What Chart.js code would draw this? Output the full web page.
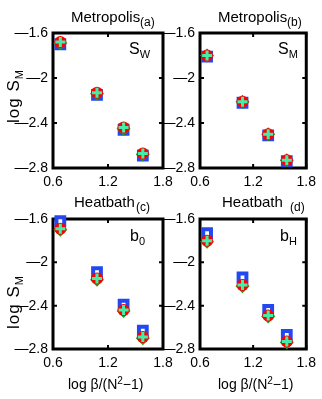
<!DOCTYPE html>
<html>
<head>
<meta charset="utf-8">
<script src="https://cdn.jsdelivr.net/npm/chart.js@4"></script>
<style>
body { margin:0; width:322px; height:399px; background:#fff; position:relative; overflow:hidden; font-family:"Liberation Sans", Arial, sans-serif; }
canvas { position:absolute; }
.txt { position:absolute; white-space:nowrap; color:#000; line-height:1; }
.sub { font-size:11px; position:relative; top:4px; }
.sup { font-size:10px; position:relative; top:-5px; }
.rot { position:absolute; white-space:nowrap; line-height:1; font-size:17px; letter-spacing:1px; transform:translate(-50%,-50%) rotate(-90deg); }
</style>
</head>
<body>
<canvas id="pa" width="180" height="195" style="left:0;top:0"></canvas>
<canvas id="pb" width="172" height="195" style="left:150px;top:0"></canvas>
<canvas id="pc" width="180" height="204" style="left:0;top:195px"></canvas>
<canvas id="pd" width="172" height="204" style="left:150px;top:195px"></canvas>

<script>
// x positions (log beta/(N^2-1)), shared by all panels
const xVals = [0.68, 1.08, 1.37, 1.58];

// panel (a) Metropolis, S_W
const aBlue  = [-1.70, -2.15, -2.46, -2.69];
const aGreen = [-1.69, -2.14, -2.45, -2.68];
const aRed   = [-1.68, -2.13, -2.44, -2.67];
const aCyan  = [-1.68, -2.13, -2.44, -2.67];

// panel (b) Metropolis, S_M
const bBlue  = [-1.81, -2.22, -2.51, -2.74];
const bGreen = [-1.80, -2.21, -2.50, -2.73];
const bRed   = [-1.80, -2.21, -2.50, -2.73];
const bCyan  = [-1.80, -2.21, -2.50, -2.73];

// panel (c) Heatbath, b_0
const cBlue  = [-1.62, -2.09, -2.39, -2.63];
const cGreen = [-1.70, -2.16, -2.45, -2.70];
const cRed   = [-1.69, -2.15, -2.44, -2.69];
const cCyan  = [-1.69, -2.15, -2.44, -2.69];

// panel (d) Heatbath, b_H
const dBlue  = [-1.73, -2.14, -2.44, -2.67];
const dGreen = [-1.81, -2.22, -2.50, -2.74];
const dRed   = [-1.80, -2.21, -2.49, -2.73];
const dCyan  = [-1.80, -2.21, -2.49, -2.73];

const xTicks = [0.6, 1.2, 1.8];
const yTicks = [-2.8, -2.4, -2, -1.6];

const FONT = '"Liberation Sans", Arial, sans-serif';

function fmt(v) {
    // long dash as minus, like the original
    return String(Math.round(v * 10) / 10).replace('-', '\u2014');
}

function pts(ys) {
    return ys.map((y, i) => ({ x: xVals[i], y: y }));
}

// thick box and inward tick marks on all four sides
const framePlugin = {
    id: 'frame',
    beforeDatasetsDraw(chart) {
        const ctx = chart.ctx;
        const a = chart.chartArea;
        const x = chart.scales.x, y = chart.scales.y;
        const tl = 4;
        ctx.save();
        ctx.strokeStyle = '#000';
        ctx.lineWidth = 2;
        ctx.beginPath();
        xTicks.forEach(v => {
            const px = x.getPixelForValue(v);
            ctx.moveTo(px, a.bottom); ctx.lineTo(px, a.bottom - tl);
            ctx.moveTo(px, a.top); ctx.lineTo(px, a.top + tl);
        });
        yTicks.forEach(v => {
            const py = y.getPixelForValue(v);
            ctx.moveTo(a.left, py); ctx.lineTo(a.left + tl, py);
            ctx.moveTo(a.right, py); ctx.lineTo(a.right - tl, py);
        });
        ctx.stroke();
        ctx.lineWidth = 3;
        ctx.strokeRect(a.left, a.top, a.right - a.left, a.bottom - a.top);
        ctx.restore();
    }
};

function makePanel(id, blue, green, red, cyan, lay) {
    const ctx = document.getElementById(id).getContext('2d');
    return new Chart(ctx, {
        type: 'scatter',
        data: {
            datasets: [
                { data: pts(blue), order: 4, pointStyle: 'rect', pointRadius: 5.5, borderWidth: 4,
                  borderColor: '#2448f0', backgroundColor: '#ffffff' },
                { data: pts(green), order: 3, pointStyle: 'rectRot', pointRadius: 7, borderWidth: 0,
                  borderColor: '#1c9e1c', backgroundColor: '#1c9e1c' },
                { data: pts(red), order: 2, pointStyle: 'circle', pointRadius: 6, borderWidth: 0,
                  borderColor: '#ff0000', backgroundColor: '#ff0000' },
                { data: pts(cyan), order: 1, pointStyle: 'cross', pointRadius: 5, borderWidth: 3,
                  borderColor: '#40f0a8', backgroundColor: '#40f0a8' }
            ]
        },
        options: {
            responsive: false,
            animation: false,
            clip: false,
            layout: { padding: { top: lay.top, right: lay.right, left: 0, bottom: 0 } },
            plugins: { legend: { display: false }, tooltip: { enabled: false } },
            scales: {
                x: {
                    type: 'linear', min: 0.6, max: 1.8,
                    afterBuildTicks: s => { s.ticks = xTicks.map(v => ({ value: v })); },
                    afterFit: s => { s.height = lay.xh; },
                    ticks: { padding: 6, color: '#000', font: { family: FONT, size: 14 }, callback: fmt, maxRotation: 0 },
                    grid: { display: false, drawTicks: false },
                    border: { display: false }
                },
                y: {
                    type: 'linear', min: -2.8, max: -1.6,
                    afterBuildTicks: s => { s.ticks = yTicks.map(v => ({ value: v })); },
                    afterFit: s => { s.width = lay.yw; },
                    ticks: { padding: 5, color: '#000', font: { family: FONT, size: 14 }, callback: fmt },
                    grid: { display: false, drawTicks: false },
                    border: { display: false }
                }
            }
        },
        plugins: [framePlugin]
    });
}

makePanel('pa', aBlue, aGreen, aRed, aCyan, { top: 33, right: 17, xh: 27, yw: 53 });
makePanel('pb', bBlue, bGreen, bRed, bCyan, { top: 33, right: 15, xh: 27, yw: 50 });
makePanel('pc', cBlue, cGreen, cRed, cCyan, { top: 24, right: 17, xh: 50, yw: 53 });
makePanel('pd', dBlue, dGreen, dRed, dCyan, { top: 24, right: 15, xh: 50, yw: 50 });

// text labels: [html, left, baseline, font size]
const labels = [
    ['Metropolis', 71, 23, 15], ['(a)', 140, 27, 12],
    ['Metropolis', 218, 23, 15], ['(b)', 287, 27, 12],
    ['Heatbath', 74, 208, 15], ['(c)', 136, 212, 12],
    ['Heatbath', 222, 208, 15], ['(d)', 290, 212, 12],
    ['S<span class="sub">W</span>', 129, 55, 16],
    ['S<span class="sub">M</span>', 278, 55, 16],
    ['b<span class="sub">0</span>', 130, 242, 16],
    ['b<span class="sub">H</span>', 280, 242, 16],
    ['log \u03b2/(N<span class="sup">2</span>\u22121)', 68, 390, 14],
    ['log \u03b2/(N<span class="sup">2</span>\u22121)', 218, 390, 14]
];
labels.forEach(l => {
    const d = document.createElement('div');
    d.className = 'txt';
    d.innerHTML = l[0];
    d.style.fontSize = l[3] + 'px';
    d.style.left = l[1] + 'px';
    d.style.top = (l[2] - Math.round(l[3] * 0.9)) + 'px';
    document.body.appendChild(d);
});

// rotated y axis labels
[[13, 96], [13, 302]].forEach(p => {
    const d = document.createElement('div');
    d.className = 'rot';
    d.innerHTML = 'log S<span class="sub">M</span>';
    d.style.left = p[0] + 'px';
    d.style.top = p[1] + 'px';
    document.body.appendChild(d);
});
</script>
</body>
</html>
